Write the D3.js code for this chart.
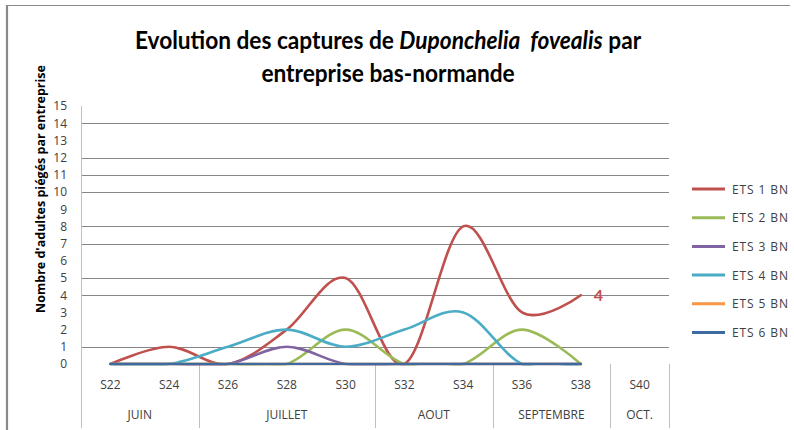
<!DOCTYPE html>
<html lang="fr">
<head>
<meta charset="UTF-8">
<title>Evolution des captures de Duponchelia fovealis</title>
<script src="https://d3js.org/d3.v7.min.js"></script>
<style>
    body { margin: 0; background: #fff; }
    svg { display: block; font-family: Lato, "Open Sans", sans-serif; }
    .tick-label { font-family: "Open Sans", sans-serif; font-size: 12px; fill: #404040; }
</style>
</head>
<body>
<svg id="chart"></svg>
<script>
// data
const weeks = ["S22", "S24", "S26", "S28", "S30", "S32", "S34", "S36", "S38", "S40"];
const months = ["JUIN", "JUILLET", "AOUT", "SEPTEMBRE", "OCT."];
const monthSpans = [2, 3, 2, 2, 1];
const seriesNames = ["ETS 1 BN", "ETS 2 BN", "ETS 3 BN", "ETS 4 BN", "ETS 5 BN", "ETS 6 BN"];
const ets1 = [0, 1, 0, 2, 5, 0, 8, 3, 4, null];
const ets2 = [0, 0, 0, 0, 2, 0, 0, 2, 0, null];
const ets3 = [0, 0, 0, 1, 0, 0, 0, 0, 0, null];
const ets4 = [0, 0, 1, 2, 1, 2, 3, 0, 0, null];
const ets5 = [0, 0, 0, 0, 0, 0, 0, 0, 0, null];
const ets6 = [0, 0, 0, 0, 0, 0, 0, 0, 0, null];
const yTicks = d3.range(0, 16);
const gridValues = [1, 4, 5, 7, 8, 10, 11, 12, 14];

const colors = ["#C0504D", "#9BBB59", "#8064A2", "#4BACC6", "#F79646", "#3F6A9F"];
const allSeries = [ets1, ets2, ets3, ets4, ets5, ets6];

const width = 794, height = 430;
const plot = { left: 81, right: 669, top: 106, bottom: 364 };

const svg = d3.select("#chart").attr("width", width).attr("height", height);

// frame (cropped: top and left edges only)
svg.append("line").attr("x1", 7).attr("x2", 790).attr("y1", 5.5).attr("y2", 5.5)
    .attr("stroke", "#8a8a8a").attr("stroke-width", 1.2);
svg.append("line").attr("x1", 7).attr("x2", 7).attr("y1", 5).attr("y2", height)
    .attr("stroke", "#8a8a8a").attr("stroke-width", 2.2);

// title (narrowed a bit to mimic Calibri)
const title = svg.append("text")
    .attr("transform", "translate(388,0) scale(0.945,1)")
    .attr("text-anchor", "middle")
    .attr("font-size", 24).attr("font-weight", "bold").attr("fill", "#000")
    .style("white-space", "pre");
const t1 = title.append("tspan").attr("x", 0).attr("y", 49);
t1.append("tspan").text("Evolution des captures de ");
t1.append("tspan").attr("font-style", "italic").text("Duponchelia  fovealis");
t1.append("tspan").text(" par");
title.append("tspan").attr("x", 0).attr("y", 82).text("entreprise bas-normande");

const x = d3.scaleBand().domain(weeks).range([plot.left, plot.right]).padding(0);
const cx = d => x(d) + x.bandwidth() / 2;
const y = d3.scaleLinear().domain([0, 15]).range([plot.bottom, plot.top]);

// gridlines
svg.append("g").selectAll("line").data(gridValues).join("line")
    .attr("x1", plot.left).attr("x2", plot.right)
    .attr("y1", d => Math.round(y(d)) + 0.5).attr("y2", d => Math.round(y(d)) + 0.5)
    .attr("stroke", "#868686").attr("stroke-width", 1);

// y axis
const yAxis = svg.append("g")
    .attr("transform", `translate(${plot.left},0)`)
    .call(d3.axisLeft(y).tickValues(yTicks).tickSize(0).tickPadding(14));
yAxis.select(".domain").attr("stroke", "#bfbfbf").attr("d", `M0.5,${plot.top}V${height - 2}`);
yAxis.selectAll("text").attr("class", "tick-label");
yAxis.attr("font-family", null).attr("font-size", null);

svg.append("text")
    .attr("transform", "translate(45,189) rotate(-90)")
    .attr("text-anchor", "middle")
    .attr("font-family", "'Open Sans', sans-serif")
    .attr("font-size", 12.5).attr("font-weight", "bold").attr("fill", "#000")
    .text("Nombre d'adultes piégés par entreprise");

// x axis: week labels
svg.append("g").selectAll("text").data(weeks).join("text")
    .attr("class", "tick-label")
    .attr("x", d => cx(d)).attr("y", 389)
    .attr("text-anchor", "middle")
    .text(d => d);

// month groups
let start = 0;
const groups = months.map((m, i) => {
    const g = { label: m, from: weeks[start], to: weeks[start + monthSpans[i] - 1] };
    start += monthSpans[i];
    return g;
});
svg.append("g").selectAll("line").data(groups).join("line")
    .attr("x1", d => Math.round(x(d.to) + x.bandwidth()) + 0.5)
    .attr("x2", d => Math.round(x(d.to) + x.bandwidth()) + 0.5)
    .attr("y1", plot.bottom).attr("y2", height - 2)
    .attr("stroke", "#bfbfbf");
svg.append("g").selectAll("text").data(groups).join("text")
    .attr("class", "tick-label")
    .attr("x", d => (x(d.from) + x(d.to) + x.bandwidth()) / 2).attr("y", 419)
    .attr("text-anchor", "middle")
    .text(d => d.label);

// series lines
svg.append("clipPath").attr("id", "clip").append("rect")
    .attr("x", plot.left).attr("y", plot.top)
    .attr("width", plot.right - plot.left).attr("height", plot.bottom - plot.top + 1.5);

const line = d3.line()
    .defined(d => d.v !== null)
    .x(d => cx(d.w))
    .y(d => y(d.v))
    .curve(d3.curveCardinal.tension(0));

svg.append("g").attr("clip-path", "url(#clip)")
    .selectAll("path").data(allSeries).join("path")
    .attr("d", vals => line(vals.map((v, i) => ({ w: weeks[i], v }))))
    .attr("fill", "none")
    .attr("stroke", (d, i) => colors[i])
    .attr("stroke-width", 2.6)
    .attr("stroke-linecap", "round");

// data label on last ETS 1 value
svg.append("text")
    .attr("x", cx(weeks[8]) + 13).attr("y", y(ets1[8]) + 5.5)
    .attr("font-size", 16).attr("font-weight", "bold").attr("fill", "#C0504D")
    .text(ets1[8]);

// legend
const legend = svg.append("g").selectAll("g").data(seriesNames).join("g")
    .attr("transform", (d, i) => `translate(692,${189 + i * 28.7})`);
legend.append("line").attr("x1", 0).attr("x2", 33)
    .attr("stroke", (d, i) => colors[i]).attr("stroke-width", 3);
legend.append("text").attr("class", "tick-label")
    .attr("x", 40).attr("y", 4.5)
    .attr("letter-spacing", 0.9)
    .text(d => d);
</script>
</body>
</html>
